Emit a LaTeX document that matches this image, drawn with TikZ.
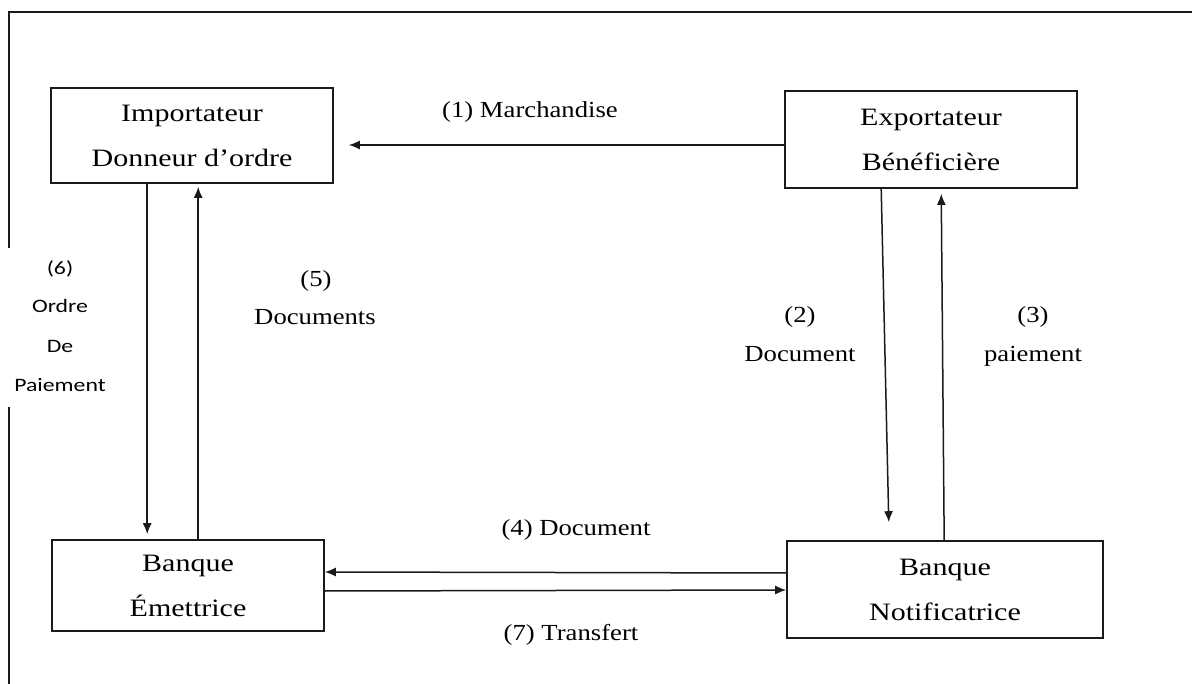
\documentclass[tikz,border=0pt]{standalone}
\usepackage{fontspec}
\usetikzlibrary{arrows.meta}
\setmainfont{Liberation Serif}
\newfontfamily\boxfont[FakeStretch=1.2]{Liberation Serif}
\newfontfamily\labfont[FakeStretch=1.16]{Liberation Serif}
\newfontfamily\sidefont[FakeStretch=1.25]{Carlito}
\definecolor{ink}{HTML}{1A1A1A}
\begin{document}
\begin{tikzpicture}[x=1pt,y=-1pt,
  box/.style={draw=ink, line width=1.6pt, rectangle, align=center, inner sep=0pt,
    font=\boxfont\fontsize{25}{45}\selectfont},
  flow/.style={draw=ink, line width=1.5pt, -{Latex[length=11pt,width=9pt]}},
  lab/.style={anchor=base, inner sep=0pt, font=\labfont\fontsize{23}{27}\selectfont},
  side/.style={anchor=base, inner sep=0pt, font=\sidefont\fontsize{19}{23}\selectfont}]
\useasboundingbox (0,0) rectangle (1192,684);

% outer frame (top and left edges, left edge broken by the side label)
\draw[ink, line width=1.6pt] (9,248) -- (9,12) -- (1192,12);
\draw[ink, line width=1.6pt] (9,407) -- (9,684);

% parties
\node[box, minimum width=282pt, minimum height=95pt] (imp) at (192,135.5)
  {Importateur\\Donneur d’ordre};
\node[box, minimum width=292pt, minimum height=97pt] (exp) at (931,139.5)
  {Exportateur\\Bénéficière};
\node[box, minimum width=272pt, minimum height=91pt] (em) at (188,585.5)
  {Banque\\Émettrice};
\node[box, minimum width=316pt, minimum height=97pt] (notif) at (945,589.5)
  {Banque\\Notificatrice};

% flows
\draw[flow, shorten >=15pt] ([yshift=-5.5pt]exp.west) -- ([yshift=-9.5pt]imp.east);
\draw[flow, shorten >=5pt] ([xshift=97pt]imp.south west) -- ([xshift=96pt]em.north west);
\draw[flow, shorten >=3pt] ([xshift=147pt]em.north west) -- ([xshift=148pt]imp.south west);
\draw[flow, shorten >=18pt] ([xshift=97pt]exp.south west) -- ([xshift=103pt]notif.north west);
\draw[flow, shorten >=5pt] ([xshift=158pt]notif.north west) -- ([xshift=157pt]exp.south west);
\draw[flow] ([yshift=16.5pt]notif.west) -- ([yshift=13.5pt]em.east);
\draw[flow] ([yshift=-5.5pt]em.east) -- ([yshift=-0.5pt]notif.west);

% flow labels
\node[lab] (l1) at (530,118) {(1) Marchandise};
\node[lab] (l5a) at (316,287) {(5)};
\node[lab] (l5b) at (315,325) {Documents};
\node[lab] (l2a) at (800,323) {(2)};
\node[lab] (l2b) at (800,362) {Document};
\node[lab] (l3a) at (1033,323) {(3)};
\node[lab] (l3b) at (1033,362) {paiement};
\node[lab] (l4) at (576,535) {(4) Document};
\node[lab] (l7) at (571,640) {(7) Transfert};

% side label
\node[side] (l6a) at (60,275) {(6)};
\node[side] (l6b) at (60,313) {Ordre};
\node[side] (l6c) at (60,353) {De};
\node[side] (l6d) at (60,392) {Paiement};
\end{tikzpicture}
\end{document}
